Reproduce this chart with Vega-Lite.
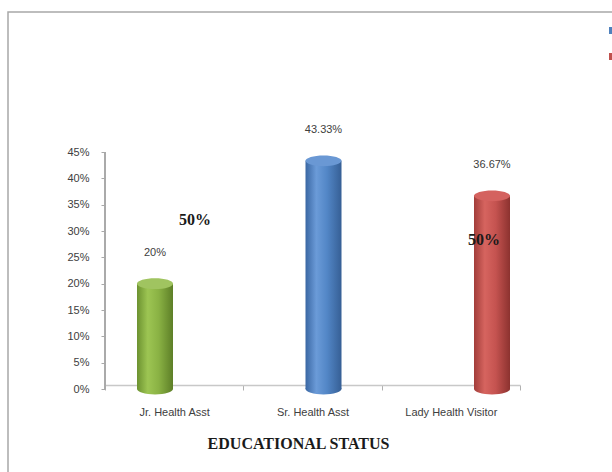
{
  "$schema": "https://vega.github.io/schema/vega-lite/v6.json",
  "autosize": {"type": "none"},
  "width": 640,
  "height": 500,
  "padding": {"left": 8, "top": 12, "right": -36, "bottom": -40},
  "background": "white",
  "config": {
    "view": {"stroke": "#a8a8a8", "strokeWidth": 1.5},
    "font": "Liberation Sans",
    "axisY": {
      "orient": "left", "offset": -97, "format": ".0%",
      "values": [0, 0.05, 0.1, 0.15, 0.2, 0.25, 0.3, 0.35, 0.4, 0.45],
      "grid": false, "domain": false, "ticks": true,
      "tickColor": "#a8a8a8", "tickWidth": 1, "tickSize": 4, "labelPadding": 12,
      "labelFont": "Liberation Sans", "labelFontSize": 11, "labelColor": "#404040"
    }
  },
  "datasets": {
    "bars": [
      {"cat": "Jr. Health Asst", "v": 0.2},
      {"cat": "Sr. Health Asst", "v": 0.4333},
      {"cat": "Lady Health Visitor", "v": 0.3667}
    ],
    "notes": [
      {"cat": "Jr. Health Asst", "note": "50%", "v": 0.321},
      {"cat": "Lady Health Visitor", "note": "50%", "v": 0.283}
    ],
    "series": [
      {"s": "Series1"},
      {"s": "Series2"}
    ]
  },
  "resolve": {"scale": {"x": "independent"}},
  "layer": [
    {
      "data": {"name": "bars"},
      "encoding": {
        "x": {
          "field": "cat", "type": "nominal",
          "scale": {"type": "band", "domain": ["Jr. Health Asst", "Sr. Health Asst", "Lady Health Visitor"], "range": [97, 512], "paddingInner": 0, "paddingOuter": 0},
          "axis": {
            "orient": "bottom", "offset": -127, "labelAngle": 0,
            "domainColor": "#c8c8c8", "domainWidth": 1.5,
            "tickColor": "#b0b0b0", "tickSize": 5, "tickBand": "extent",
            "labelFont": "Liberation Sans", "labelFontSize": 11, "labelColor": "#404040",
            "labelPadding": 16,
            "title": "EDUCATIONAL  STATUS",
            "titleFont": "Liberation Serif", "titleFontSize": 16, "titleFontWeight": "bold",
            "titleColor": "#1a1a1a", "titleX": 290, "titleY": 58, "titleBaseline": "middle",
            "titleAnchor": "middle", "titleAlign": "center"
          }
        }
      },
      "layer": [
        {
          "mark": {"type": "point", "opacity": 0},
          "encoding": {
            "y": {
              "field": "v", "type": "quantitative", "title": null,
              "scale": {"domain": [0, 0.45], "range": [377, 140], "nice": false, "zero": true}
            }
          }
        },
        {
          "mark": {"type": "rule", "color": "#a8a8a8", "strokeWidth": 1.5},
          "encoding": {
            "x": {"datum": "Jr. Health Asst", "bandPosition": 0, "type": "nominal"},
            "y": {"datum": 0, "type": "quantitative", "title": null},
            "y2": {"datum": 0.45}
          }
        }
      ]
    },
    {
      "data": {"name": "bars"},
      "encoding": {
        "x": {
          "field": "cat", "type": "nominal", "sort": null,
          "scale": {"type": "point", "range": [147, 484], "padding": 0},
          "axis": null
        }
      },
      "layer": [
        {
          "mark": {"type": "bar", "size": 36},
          "encoding": {
            "y": {"field": "v", "type": "quantitative", "title": null},
            "y2": {"datum": 0},
            "fill": {
              "condition": [
                {"test": "datum.cat === 'Jr. Health Asst'", "value": {"gradient": "linear", "x1": 0, "x2": 1, "y1": 0, "y2": 0, "stops": [{"offset": 0, "color": "#6c9230"}, {"offset": 0.3, "color": "#9dc553"}, {"offset": 0.6, "color": "#8ab244"}, {"offset": 1, "color": "#5d7f27"}]}},
                {"test": "datum.cat === 'Sr. Health Asst'", "value": {"gradient": "linear", "x1": 0, "x2": 1, "y1": 0, "y2": 0, "stops": [{"offset": 0, "color": "#3a67a3"}, {"offset": 0.3, "color": "#6b9bd8"}, {"offset": 0.6, "color": "#5286c6"}, {"offset": 1, "color": "#365f95"}]}}
              ],
              "value": {"gradient": "linear", "x1": 0, "x2": 1, "y1": 0, "y2": 0, "stops": [{"offset": 0, "color": "#a23d3a"}, {"offset": 0.3, "color": "#d6645f"}, {"offset": 0.6, "color": "#c55350"}, {"offset": 1, "color": "#8c322f"}]}
            }
          }
        },
        {
          "mark": {"type": "point", "shape": "M-1,0 A1,0.3 0 1,1 1,0 A1,0.3 0 1,1 -1,0 Z", "size": 1296, "filled": true, "opacity": 1},
          "encoding": {
            "y": {"datum": 0, "type": "quantitative", "title": null},
            "fill": {
              "condition": [
                {"test": "datum.cat === 'Jr. Health Asst'", "value": {"gradient": "linear", "x1": 0, "x2": 1, "y1": 0, "y2": 0, "stops": [{"offset": 0, "color": "#6c9230"}, {"offset": 0.3, "color": "#9dc553"}, {"offset": 0.6, "color": "#8ab244"}, {"offset": 1, "color": "#5d7f27"}]}},
                {"test": "datum.cat === 'Sr. Health Asst'", "value": {"gradient": "linear", "x1": 0, "x2": 1, "y1": 0, "y2": 0, "stops": [{"offset": 0, "color": "#3a67a3"}, {"offset": 0.3, "color": "#6b9bd8"}, {"offset": 0.6, "color": "#5286c6"}, {"offset": 1, "color": "#365f95"}]}}
              ],
              "value": {"gradient": "linear", "x1": 0, "x2": 1, "y1": 0, "y2": 0, "stops": [{"offset": 0, "color": "#a23d3a"}, {"offset": 0.3, "color": "#d6645f"}, {"offset": 0.6, "color": "#c55350"}, {"offset": 1, "color": "#8c322f"}]}
            }
          }
        },
        {
          "mark": {"type": "point", "shape": "M-1,0 A1,0.3 0 1,1 1,0 A1,0.3 0 1,1 -1,0 Z", "size": 1296, "filled": true, "opacity": 1},
          "encoding": {
            "y": {"field": "v", "type": "quantitative", "title": null},
            "fill": {
              "condition": [
                {"test": "datum.cat === 'Jr. Health Asst'", "value": "#a0c460"},
                {"test": "datum.cat === 'Sr. Health Asst'", "value": "#6a98d4"}
              ],
              "value": "#d4625f"
            }
          }
        },
        {
          "mark": {"type": "text", "dy": -31, "fontSize": 11, "font": "Liberation Sans", "color": "#404040", "baseline": "middle"},
          "encoding": {
            "y": {"field": "v", "type": "quantitative", "title": null},
            "text": {"field": "v", "type": "quantitative", "format": ".2~%"}
          }
        },
        {
          "data": {"name": "notes"},
          "transform": [{"filter": "datum.cat === 'Jr. Health Asst'"}],
          "mark": {"type": "text", "dx": 40, "fontSize": 16, "font": "Liberation Serif", "fontWeight": "bold", "color": "#1a1a1a", "baseline": "middle"},
          "encoding": {
            "y": {"field": "v", "type": "quantitative", "title": null},
            "text": {"field": "note", "type": "nominal"}
          }
        },
        {
          "data": {"name": "notes"},
          "transform": [{"filter": "datum.cat === 'Lady Health Visitor'"}],
          "mark": {"type": "text", "dx": -8, "fontSize": 16, "font": "Liberation Serif", "fontWeight": "bold", "color": "#1a1a1a", "baseline": "middle"},
          "encoding": {
            "y": {"field": "v", "type": "quantitative", "title": null},
            "text": {"field": "note", "type": "nominal"}
          }
        }
      ]
    },
    {
      "data": {"name": "series"},
      "mark": {"type": "text", "text": ""},
      "encoding": {
        "color": {
          "field": "s", "type": "nominal",
          "scale": {"domain": ["Series1", "Series2"], "range": ["#4f81bd", "#c0504d"]},
          "legend": {
            "orient": "none", "legendX": 599, "legendY": 13, "padding": 0,
            "title": null, "symbolType": "square", "symbolSize": 49,
            "symbolOpacity": 1, "symbolStrokeWidth": 0,
            "labelFontSize": 11, "rowPadding": 14, "labelOffset": 4
          }
        }
      }
    }
  ]
}
